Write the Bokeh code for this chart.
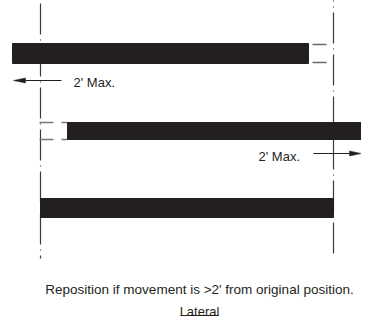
from bokeh.plotting import figure
from bokeh.models import Range1d
from bokeh.core.properties import value
from bokeh.embed import file_html
from bokeh.resources import INLINE

# Board (bar) positions in the three cases, in diagram units (pixels of the drawing)
bar_left = [12, 67, 40]
bar_right = [308, 362, 333]
bar_top = [43, 122, 198]
bar_bottom = [63, 139, 217]

# Reference lines marking the original position of the board ends
ref_x = [40, 333]
ref_y_start = [3, -30]
ref_y_end = [258, 258]

# Ghost (original position) outline ticks
ghost_solid_x0 = [312, 312]
ghost_solid_x1 = [326, 326]
ghost_solid_y = [44, 62]
ghost_dash_x0 = [39, 39]
ghost_dash_x1 = [67, 67]
ghost_dash_y = [122, 139]

# Movement arrows
arrow_tail_x = [61, 313]
arrow_head_x = [13, 361]
arrow_y = [80, 153]

# Arrow labels
label_x = [73, 258]
label_y = [82, 156]
label_text = ["2' Max.", "2' Max."]

caption_text = "Reposition if movement is >2' from original position."
caption_x = 199
caption_y = 289
title_text = "Lateral"
title_x = 199
title_y = 311
title_width = 38

INK = "#231f20"

p = figure(width=361, height=320, output_backend="svg", toolbar_location=None,
           x_range=Range1d(0, 361), y_range=Range1d(320, 0),
           x_axis_type=None, y_axis_type=None, min_border=0,
           outline_line_color=None, background_fill_color="white",
           border_fill_color="white", margin=(0, 0, -8, 0))
p.grid.visible = False

# reference lines (dash-dot)
p.segment(x0=ref_x, y0=ref_y_start, x1=ref_x, y1=ref_y_end,
          line_color="#3a3a3a", line_width=1.2, line_dash="31 5 1 5")

# ghost outline ticks
p.segment(x0=ghost_solid_x0, y0=ghost_solid_y, x1=ghost_solid_x1, y1=ghost_solid_y,
          line_color="#6b6b6b", line_width=1.3)
p.segment(x0=ghost_dash_x0, y0=ghost_dash_y, x1=ghost_dash_x1, y1=ghost_dash_y,
          line_color="#7a7a7a", line_width=1.3, line_dash="14 8")

# bars
p.quad(left=bar_left, right=bar_right, top=bar_top, bottom=bar_bottom,
       fill_color=INK, line_color=INK)

# arrows: shaft + elongated triangular head
head_len = 12
head_half = 2.5
shaft_x0, shaft_x1, head_xs, head_ys = [], [], [], []
for tx, hx, y in zip(arrow_tail_x, arrow_head_x, arrow_y):
    d = 1 if hx > tx else -1
    base = hx - d * head_len
    shaft_x0.append(tx)
    shaft_x1.append(base)
    head_xs.append([hx, base, base])
    head_ys.append([y, y - head_half, y + head_half])
p.segment(x0=shaft_x0, y0=arrow_y, x1=shaft_x1, y1=arrow_y, line_color=INK, line_width=1)
p.patches(xs=head_xs, ys=head_ys, fill_color=INK, line_color=INK, line_width=0.5)

# labels
p.text(x=label_x, y=label_y, text=label_text, text_font=value("Liberation Sans"),
       text_font_size="13px", text_color=INK, text_baseline="alphabetic", text_align="left")
p.text(x=[caption_x], y=[caption_y], text=[caption_text], text_font=value("Liberation Sans"),
       text_font_size="13.5px", text_color=INK, text_baseline="alphabetic", text_align="center")
p.text(x=[title_x], y=[title_y], text=[title_text], text_font=value("Liberation Sans"),
       text_font_size="13px", text_color=INK, text_baseline="alphabetic", text_align="center")
p.segment(x0=[title_x - title_width / 2], y0=[title_y + 4], x1=[title_x + title_width / 2],
          y1=[title_y + 4], line_color=INK, line_width=1)

open("out.html", "w").write(file_html(p, INLINE))
